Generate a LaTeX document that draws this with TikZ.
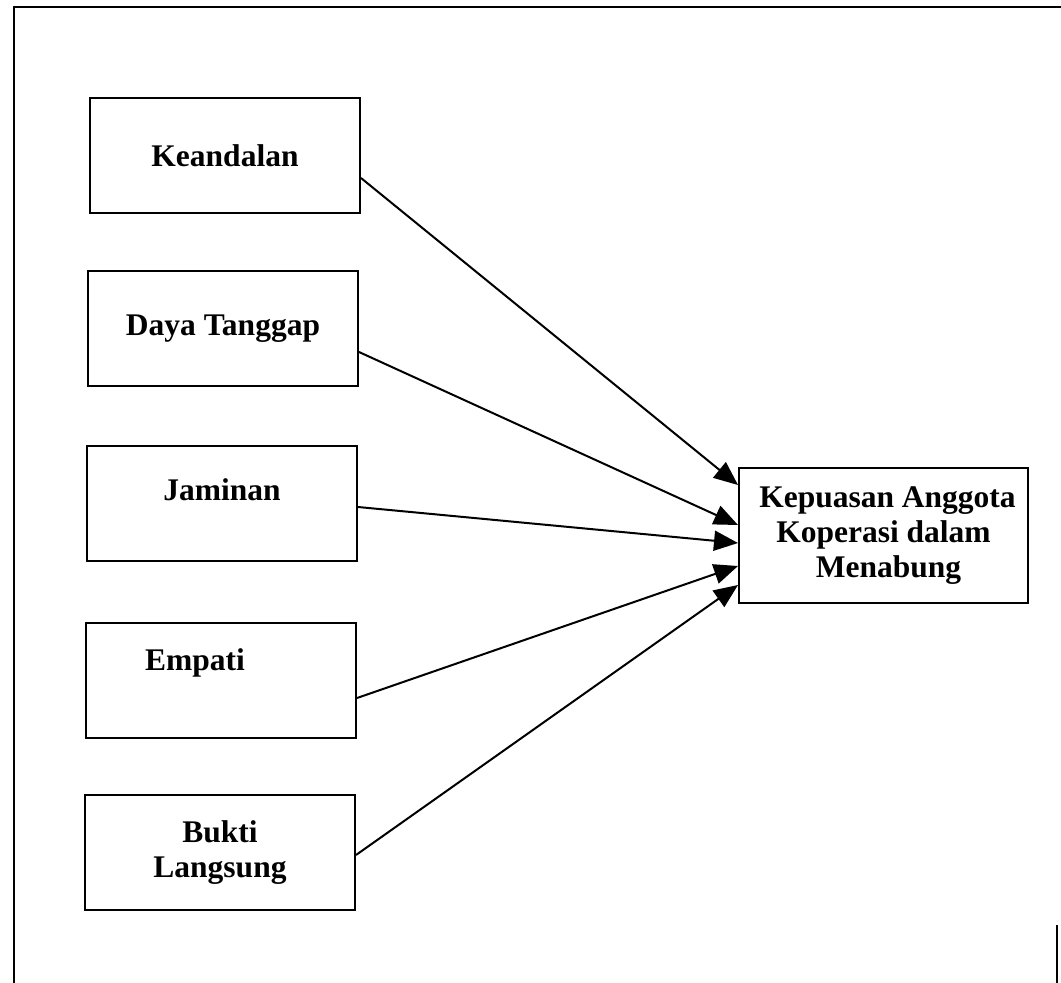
\documentclass[tikz,border=0pt]{standalone}
\usepackage{fontspec}
\setmainfont{Liberation Serif}
\usetikzlibrary{arrows.meta,shapes}
\tikzstyle{factor}=[draw=black, line width=2pt, minimum width=270pt,
                minimum height=115pt, inner sep=0, align=center,
                font=\bfseries\fontsize{31.5}{35}\selectfont]
\tikzstyle{result}=[factor, minimum width=289pt, minimum height=135pt]
\tikzstyle{flabel}=[inner sep=0, font=\bfseries\fontsize{31.5}{35}\selectfont]
\tikzstyle{pengaruh}=[-{Triangle[length=24pt,width=20pt]}, line width=2pt]

\begin{document}
\begin{tikzpicture}[x=1pt,y=-1pt]
\path[use as bounding box] (0,0) rectangle (1061,983);
\draw[line width=2pt] (14,983) -- (14,7) -- (1061,7);
\draw[line width=2pt] (1057,925) -- (1057,983);
\node[factor] (ke) at (225,155.5) {Keandalan};
\node[factor] (dt) at (223,328.5) {Daya Tanggap};
\node[factor, label={[flabel, yshift=13pt]center:Jaminan}] (jm) at (222,503) {};
\node[factor, label={[flabel, xshift=-26pt, yshift=18pt]center:Empati}] (em) at (221,680.5) {};
\node[factor] (bl) at (220,852.5) {Bukti\\Langsung};
\node[result] (kp) at (883.5,535.5) {\hspace{8pt}Kepuasan Anggota\\Koperasi dalam\\\hspace{10pt}Menabung};
\path[pengaruh]
  ([yshift=-22.5pt]ke.east) edge ([yshift=50.5pt]kp.west)
  ([yshift=-23.5pt]dt.east) edge ([yshift=10.5pt]kp.west)
  ([yshift=-4pt]jm.east) edge ([yshift=-7.5pt]kp.west)
  ([yshift=-17.5pt]em.east) edge ([yshift=-30.5pt]kp.west)
  ([yshift=-2.5pt]bl.east) edge ([yshift=-49.5pt]kp.west);
\end{tikzpicture}
\end{document}
